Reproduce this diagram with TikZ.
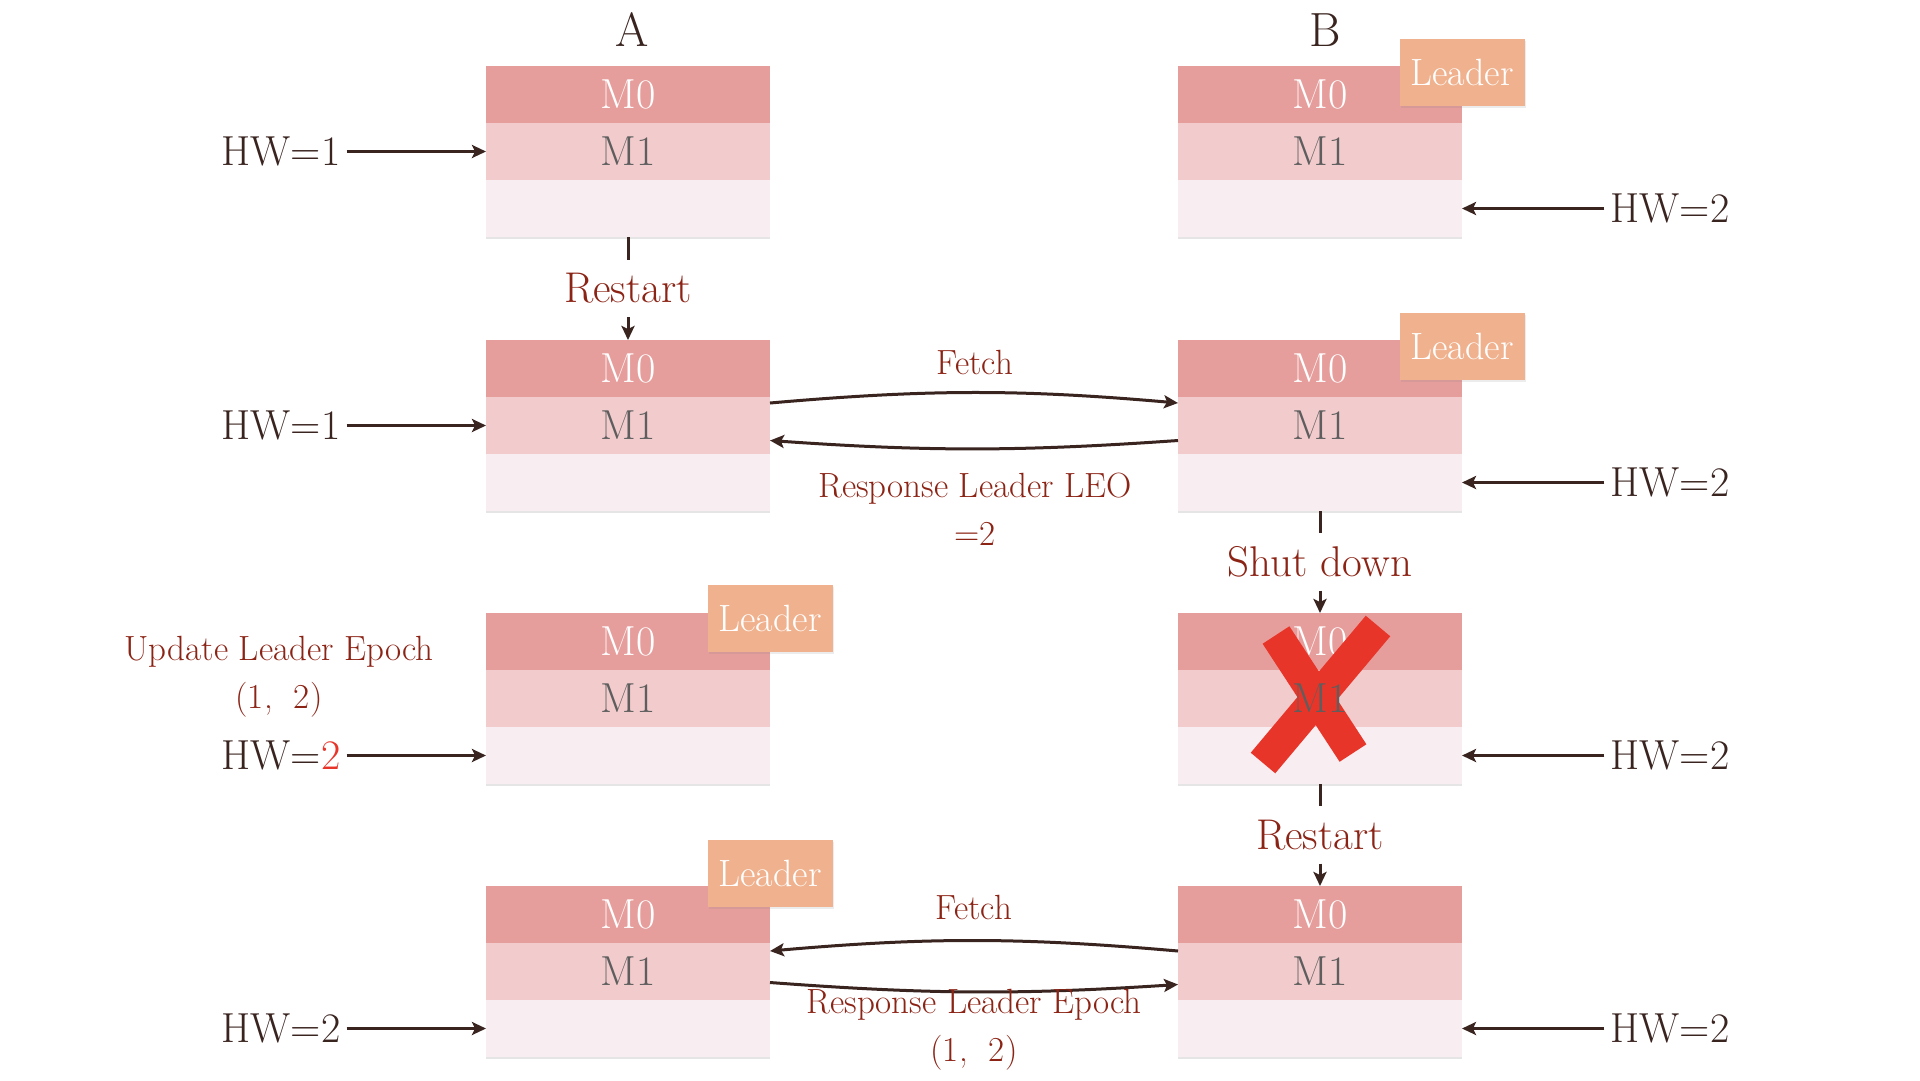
\documentclass[tikz,border=0pt]{standalone}
\usepackage{fontspec}
\usetikzlibrary{positioning,arrows.meta,shadows}
\definecolor{mzero}{HTML}{E69E9C}
\definecolor{mone}{HTML}{F2CBCC}
\definecolor{mfree}{HTML}{F8EDF1}
\definecolor{tagpeach}{HTML}{F0B28E}
\definecolor{inkbrown}{HTML}{3A2420}
\definecolor{notered}{HTML}{8C2416}
\definecolor{crossred}{HTML}{E8352A}
\definecolor{msgrey}{HTML}{5E5E5E}
\tikzset{>={Stealth[length=14pt,width=13pt,inset=3pt]},
    slot/.style={minimum width=284pt, minimum height=57pt, inner sep=0pt, outer sep=0pt, font=\fontsize{42}{44}\selectfont},
    mzerorow/.style={slot, fill=mzero, text=white},
    monerow/.style={slot, fill=mone, text=msgrey},
    mfreerow/.style={slot, fill=mfree, drop shadow={shadow xshift=0pt, shadow yshift=-2pt, opacity=0.2}},
    leadertag/.style={fill=tagpeach, text=white, minimum width=125pt, minimum height=67pt, inner sep=0pt, font=\fontsize{38}{40}\selectfont, drop shadow={shadow xshift=1pt, shadow yshift=-2pt, opacity=0.15}},
    collabel/.style={text=inkbrown, font=\fontsize{48}{50}\selectfont},
    hwlabel/.style={text=inkbrown, inner sep=6pt, font=\fontsize{42}{46}\selectfont},
    steplabel/.style={text=notered, minimum height=57pt, inner sep=0pt, font=\fontsize{43}{46}\selectfont},
    msglabel/.style={text=notered, align=center, inner sep=0pt, font=\fontsize{35}{48}\selectfont},
    link/.style={->, draw=inkbrown, line width=3pt},
    tick/.style={draw=inkbrown, line width=3pt}}
\begin{document}
\begin{tikzpicture}[x=1pt, y=-1pt]
    \fill[white] (0,0) rectangle (1920,1080);
    \useasboundingbox (0,0) rectangle (1920,1080);
    \node[collabel] (colA) at (632,30) {A};
    \node[collabel] (colB) at (1325,30) {B};

    \node[mzerorow] (A1m0) at (628,94.5) {M0};
    \node[monerow, below=0pt of A1m0] (A1m1) {M1};
    \node[mfreerow, below=0pt of A1m1] (A1e) {};
    \node[mzerorow] (A2m0) at (628,368.5) {M0};
    \node[monerow, below=0pt of A2m0] (A2m1) {M1};
    \node[mfreerow, below=0pt of A2m1] (A2e) {};
    \node[mzerorow] (A3m0) at (628,641.5) {M0};
    \node[monerow, below=0pt of A3m0] (A3m1) {M1};
    \node[mfreerow, below=0pt of A3m1] (A3e) {};
    \node[mzerorow] (A4m0) at (628,914.5) {M0};
    \node[monerow, below=0pt of A4m0] (A4m1) {M1};
    \node[mfreerow, below=0pt of A4m1] (A4e) {};

    \node[mzerorow] (B1m0) at (1320,94.5) {M0};
    \node[monerow, below=0pt of B1m0] (B1m1) {M1};
    \node[mfreerow, below=0pt of B1m1] (B1e) {};
    \node[mzerorow] (B2m0) at (1320,368.5) {M0};
    \node[monerow, below=0pt of B2m0] (B2m1) {M1};
    \node[mfreerow, below=0pt of B2m1] (B2e) {};
    \node[mzerorow] (B3m0) at (1320,641.5) {M0};
    \node[slot, fill=mone, below=0pt of B3m0] (B3m1) {};
    \node[mfreerow, below=0pt of B3m1] (B3e) {};
    \node[mzerorow] (B4m0) at (1320,914.5) {M0};
    \node[monerow, below=0pt of B4m0] (B4m1) {M1};
    \node[mfreerow, below=0pt of B4m1] (B4e) {};

    \node[leadertag] (B1tag) at (1462,72.5) {Leader};
    \node[leadertag] (B2tag) at (1462,346) {Leader};
    \node[leadertag] (A3tag) at (770,618.5) {Leader};
    \node[leadertag] (A4tag) at (770,873.5) {Leader};

    \node[hwlabel] (hwA1) at (281,151.5) {HW=1};
    \node[hwlabel] (hwA2) at (281,425.5) {HW=1};
    \node[hwlabel] (hwA3) at (281,755.5) {HW=\textcolor{crossred}{2}};
    \node[hwlabel] (hwA4) at (281,1028.5) {HW=2};
    \node[hwlabel] (hwB1) at (1670,208.5) {HW=2};
    \node[hwlabel] (hwB2) at (1670,482.5) {HW=2};
    \node[hwlabel] (hwB3) at (1670,755.5) {HW=2};
    \node[hwlabel] (hwB4) at (1670,1028.5) {HW=2};
    \draw[link] (hwA1) -- (A1m1.west);
    \draw[link] (hwA2) -- (A2m1.west);
    \draw[link] (hwA3) -- (A3e.west);
    \draw[link] (hwA4) -- (A4e.west);
    \draw[link] (hwB1) -- (B1e.east);
    \draw[link] (hwB2) -- (B2e.east);
    \draw[link] (hwB3) -- (B3e.east);
    \draw[link] (hwB4) -- (B4e.east);

    \node[steplabel] (restartA) at (628,288.5) {Restart};
    \node[steplabel] (shutB) at (1320,562) {Shut down};
    \node[steplabel] (restartB) at (1320,835) {Restart};
    \draw[tick] (A1e) -- (restartA);
    \draw[link] (restartA) -- (A2m0);
    \draw[tick] (B2e) -- (shutB);
    \draw[link] (shutB) -- (B3m0);
    \draw[tick] (B3e) -- (restartB);
    \draw[link] (restartB) -- (B4m0);

    \draw[link] ([yshift=-6pt]A2m1.north east) to[bend left=5] ([yshift=-6pt]B2m1.north west);
    \draw[link] ([yshift=-15pt]B2m1.west) to[bend left=4] ([yshift=-15pt]A2m1.east);
    \node[msglabel] (fetchTwo) at (975,362) {Fetch};
    \node[msglabel] (respTwo) at (975,509) {Response Leader LEO\\=2};

    \draw[link] ([yshift=-8pt]B4m1.north west) to[bend right=5] ([yshift=-8pt]A4m1.north east);
    \draw[link] ([yshift=-11pt]A4m1.east) to[bend right=4] ([yshift=-13pt]B4m1.west);
    \node[msglabel] (fetchFour) at (974,907) {Fetch};
    \node[msglabel] (respFour) at (974,1030) {Response Leader Epoch\\(1,\ \ 2)};

    \node[msglabel] (update) at (279,677) {Update Leader Epoch\\(1,\ \ 2)};

    \draw[crossred, line width=32pt] (1276,635) -- (1353,753);
    \draw[crossred, line width=32pt] (1378,626) -- (1263,763);
    \node[slot, text=msgrey] (B3text) at (B3m1) {M1};
\end{tikzpicture}
\end{document}
